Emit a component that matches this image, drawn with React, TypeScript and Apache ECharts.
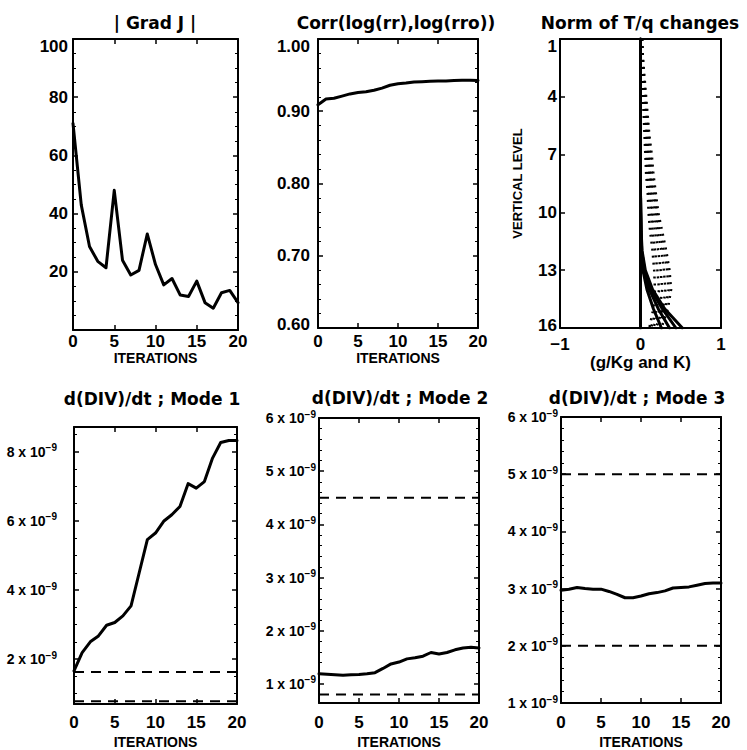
import React, { useEffect, useRef } from 'react';
import * as echarts from 'echarts';

// ---------- data ----------
const iterations = [0, 1, 2, 3, 4, 5, 6, 7, 8, 9, 10, 11, 12, 13, 14, 15, 16, 17, 18, 19, 20];

const gradJ = [71, 43, 28.7, 23.6, 21.4, 48, 24, 18.9, 20.5, 33, 22.5, 15.5, 17.7, 12, 11.5, 16.8, 9.4, 7.5, 12.8, 13.6, 9.4];

const corrLogRR = [0.909, 0.917, 0.918, 0.921, 0.924, 0.926, 0.927, 0.929, 0.932, 0.936, 0.938, 0.939, 0.9405, 0.941, 0.9415, 0.942, 0.942, 0.9425, 0.943, 0.943, 0.9425];

const levels = [1, 2, 3, 4, 5, 6, 7, 8, 9, 10, 11, 12, 13, 14, 15, 16];
// dotted profiles (q changes)
const qChange1 = [0.02, 0.03, 0.05, 0.07, 0.09, 0.11, 0.14, 0.16, 0.19, 0.22, 0.27, 0.32, 0.36, 0.38, 0.34, 0.26];
const qChange2 = [0.02, 0.03, 0.04, 0.06, 0.08, 0.10, 0.12, 0.14, 0.17, 0.20, 0.24, 0.29, 0.33, 0.35, 0.31, 0.22];
const qChange3 = [0.01, 0.02, 0.04, 0.05, 0.07, 0.08, 0.10, 0.12, 0.15, 0.18, 0.21, 0.26, 0.29, 0.31, 0.28, 0.19];
const qChange4 = [0.01, 0.02, 0.03, 0.04, 0.06, 0.07, 0.09, 0.11, 0.13, 0.15, 0.18, 0.22, 0.25, 0.27, 0.24, 0.16];
const qChange5 = [0.01, 0.02, 0.03, 0.04, 0.05, 0.06, 0.07, 0.09, 0.11, 0.13, 0.15, 0.18, 0.21, 0.23, 0.20, 0.13];
const qChange6 = [0.01, 0.01, 0.02, 0.03, 0.04, 0.05, 0.06, 0.07, 0.09, 0.10, 0.12, 0.15, 0.17, 0.18, 0.16, 0.11];
// solid profiles (T changes)
const tChange0 = [0, 0, 0, 0, 0, 0, 0, 0, 0, 0, 0, 0, 0, 0, 0, 0];
const tChange1 = [0, 0, 0, 0, 0, 0, 0, 0, 0, 0.002, 0.005, 0.01, 0.03, 0.08, 0.16, 0.26];
const tChange2 = [0, 0, 0, 0, 0, 0, 0, 0, 0, 0.002, 0.005, 0.01, 0.04, 0.11, 0.22, 0.36];
const tChange3 = [0, 0, 0, 0, 0, 0, 0, 0, 0, 0.003, 0.007, 0.015, 0.05, 0.13, 0.27, 0.44];
const tChange4 = [0, 0, 0, 0, 0, 0, 0, 0, 0, 0.003, 0.008, 0.02, 0.06, 0.15, 0.30, 0.52];

// d(DIV)/dt, in units of 1e-9
const mode1 = [1.66, 2.19, 2.5, 2.67, 2.98, 3.06, 3.25, 3.54, 4.5, 5.46, 5.65, 5.99, 6.18, 6.42, 7.08, 6.95, 7.14, 7.82, 8.27, 8.33, 8.33];
const mode1Bounds = [1.63, 0.78];
const mode2 = [1.19, 1.18, 1.17, 1.16, 1.17, 1.175, 1.19, 1.21, 1.29, 1.375, 1.41, 1.47, 1.49, 1.52, 1.59, 1.56, 1.59, 1.64, 1.675, 1.69, 1.675];
const mode2Bounds = [4.5, 0.8];
const mode3 = [2.97, 2.99, 3.02, 3.0, 2.99, 2.99, 2.95, 2.9, 2.84, 2.84, 2.87, 2.91, 2.93, 2.96, 3.01, 3.02, 3.03, 3.06, 3.09, 3.1, 3.1];
const mode3Bounds = [5, 2];

// ---------- tick labels ----------
const iterTicks = [0, 5, 10, 15, 20];
const gradTicks = [20, 40, 60, 80, 100];
const gradMinor = [5, 10, 15, 25, 30, 35, 45, 50, 55, 65, 70, 75, 85, 90, 95];
const corrTicks = [0.6, 0.7, 0.8, 0.9, 1.0];
const corrMinor = [0.62, 0.64, 0.66, 0.68, 0.72, 0.74, 0.76, 0.78, 0.82, 0.84, 0.86, 0.88, 0.92, 0.94, 0.96, 0.98];
const levelTicks = [1, 4, 7, 10, 13, 16];
const normTicks = [-1, 0, 1];
const mode1Ticks = [2, 4, 6, 8];
const mode1Minor = [1, 1.5, 2.5, 3, 3.5, 4.5, 5, 5.5, 6.5, 7, 7.5, 8.5];
const mode2Ticks = [1, 2, 3, 4, 5, 6];
const mode2Minor = [0.8, 1.2, 1.4, 1.6, 1.8, 2.2, 2.4, 2.6, 2.8, 3.2, 3.4, 3.6, 3.8, 4.2, 4.4, 4.6, 4.8, 5.2, 5.4, 5.6, 5.8];
const mode3Ticks = [1, 2, 3, 4, 5, 6];
const mode3Minor = [1.2, 1.4, 1.6, 1.8, 2.2, 2.4, 2.6, 2.8, 3.2, 3.4, 3.6, 3.8, 4.2, 4.4, 4.6, 4.8, 5.2, 5.4, 5.6, 5.8];

const titles = [
  '| Grad J |',
  'Corr(log(rr),log(rro))',
  'Norm of T/q changes',
  'd(DIV)/dt ; Mode 1',
  'd(DIV)/dt ; Mode 2',
  'd(DIV)/dt ; Mode 3',
];

// ---------- styles ----------
const BLACK = '#000';
const TICK_FONT = "'Liberation Sans', Arial, Helvetica, sans-serif";
const TITLE_FONT = "'DejaVu Sans', 'Liberation Sans', sans-serif";

const tickText = { fontFamily: TICK_FONT, fontWeight: 'bold' as const, fontSize: 17, color: BLACK };
// top-row labels: IDL nudges the top label down and the bottom one up a little
const richTop = {
  hi: { ...tickText, padding: [15, 0, 0, 0] },
  lo: { ...tickText, padding: [0, 0, 8, 0] },
  n: { ...tickText },
};
const richExp = {
  m: { fontFamily: TICK_FONT, fontWeight: 'bold' as const, fontSize: 14, color: BLACK },
  e: { fontFamily: TICK_FONT, fontWeight: 'bold' as const, fontSize: 10, color: BLACK, padding: [0, 0, 8, 0] },
};
const expFormatter = (v: number) => `{m|${v} x 10}{e|\u22129}`;
const edgeFormatter = (ticks: number[], fmt: (v: number) => string, nudgeLow: boolean) => (v: number) => {
  const t = fmt(v);
  if (v === ticks[ticks.length - 1]) return `{hi|${t}}`;
  if (nudgeLow && v === ticks[0]) return `{lo|${t}}`;
  return `{n|${t}}`;
};

type PanelCfg = {
  grid: { left: number; top: number; width: number; height: number };
  xMin: number; xMax: number; xTicks: number[];
  xFormatter?: (v: number) => string;
  xName: string; xNameGap: number; xNameSize: number; xLabelMargin: number;
  yMin: number; yMax: number; yTicks: number[]; yMinor: number[];
  yFormatter: (v: number) => string; yRich?: any; yLabelMargin: number; yInverse?: boolean;
  yName?: string; yNameGap?: number;
  title: string; titleX: number; titleY: number;
};

const panels: PanelCfg[] = [
  {
    grid: { left: 73, top: 39, width: 165, height: 291 },
    xMin: 0, xMax: 20, xTicks: iterTicks, xName: 'ITERATIONS', xNameGap: 19, xNameSize: 14, xLabelMargin: 3,
    yMin: 0, yMax: 100, yTicks: gradTicks, yMinor: gradMinor,
    yFormatter: edgeFormatter(gradTicks, (v) => String(v), false), yRich: richTop, yLabelMargin: 5,
    title: titles[0], titleX: 155, titleY: 23,
  },
  {
    grid: { left: 318, top: 39, width: 160, height: 289 },
    xMin: 0, xMax: 20, xTicks: iterTicks, xName: 'ITERATIONS', xNameGap: 21, xNameSize: 14, xLabelMargin: 5,
    yMin: 0.6, yMax: 1.0, yTicks: corrTicks, yMinor: corrMinor,
    yFormatter: edgeFormatter(corrTicks, (v) => v.toFixed(2), true), yRich: richTop, yLabelMargin: 8,
    title: titles[1], titleX: 396, titleY: 23,
  },
  {
    grid: { left: 560, top: 39, width: 161, height: 289 },
    xMin: -1, xMax: 1, xTicks: normTicks,
    xFormatter: (v) => (v < 0 ? '\u2212' + Math.abs(v) : String(v)),
    xName: '(g/Kg and K)', xNameGap: 26, xNameSize: 17, xLabelMargin: 8,
    yMin: 1, yMax: 16, yTicks: levelTicks, yMinor: [],
    yFormatter: (v) => (v === levelTicks[0] ? `{hi|${v}}` : v === levelTicks[levelTicks.length - 1] ? `{lo|${v}}` : `{n|${v}}`),
    yRich: { hi: { ...tickText, padding: [15, 0, 0, 0] }, lo: { ...tickText, padding: [0, 0, 5, 0] }, n: { ...tickText } },
    yLabelMargin: 3, yInverse: true,
    yName: 'VERTICAL LEVEL', yNameGap: 36,
    title: titles[2], titleX: 640, titleY: 23,
  },
  {
    grid: { left: 74, top: 427, width: 163, height: 278 },
    xMin: 0, xMax: 20, xTicks: iterTicks, xName: 'ITERATIONS', xNameGap: 31, xNameSize: 14, xLabelMargin: 10,
    yMin: 0.7, yMax: 8.72, yTicks: mode1Ticks, yMinor: mode1Minor, yFormatter: expFormatter, yRich: richExp, yLabelMargin: 17,
    title: titles[3], titleX: 152, titleY: 399,
  },
  {
    grid: { left: 319, top: 418, width: 160, height: 286 },
    xMin: 0, xMax: 20, xTicks: iterTicks, xName: 'ITERATIONS', xNameGap: 32, xNameSize: 14, xLabelMargin: 11,
    yMin: 0.64, yMax: 6.0, yTicks: mode2Ticks, yMinor: mode2Minor, yFormatter: expFormatter, yRich: richExp, yLabelMargin: 3,
    title: titles[4], titleX: 400, titleY: 398,
  },
  {
    grid: { left: 561, top: 417, width: 160, height: 287 },
    xMin: 0, xMax: 20, xTicks: iterTicks, xName: 'ITERATIONS', xNameGap: 32, xNameSize: 14, xLabelMargin: 11,
    yMin: 1, yMax: 6, yTicks: mode3Ticks, yMinor: mode3Minor, yFormatter: expFormatter, yRich: richExp, yLabelMargin: 3,
    title: titles[5], titleX: 637, titleY: 398,
  },
];

function buildOption() {
  const grid: any[] = [];
  const xAxis: any[] = [];
  const yAxis: any[] = [];
  const series: any[] = [];
  const graphic: any[] = [];

  const axisLine = { show: true, onZero: false, lineStyle: { color: BLACK, width: 2 } };

  panels.forEach((p, i) => {
    grid.push({ ...p.grid, containLabel: false });
    const xInterval = p.xTicks[1] - p.xTicks[0];
    // bottom x
    xAxis.push({
      gridIndex: i, type: 'value', position: 'bottom', min: p.xMin, max: p.xMax, interval: xInterval,
      axisLine, splitLine: { show: false },
      axisTick: { show: true, inside: true, length: 5, lineStyle: { color: BLACK, width: 1.5 } },
      axisLabel: { show: true, margin: p.xLabelMargin, ...tickText, formatter: p.xFormatter || ((v: number) => String(v)) },
      name: p.xName, nameLocation: 'middle', nameGap: p.xNameGap,
      nameTextStyle: { fontFamily: TICK_FONT, fontWeight: 'bold', fontSize: p.xNameSize, color: BLACK },
    });
    // top x
    xAxis.push({
      gridIndex: i, type: 'value', position: 'top', min: p.xMin, max: p.xMax, interval: xInterval,
      axisLine, splitLine: { show: false },
      axisTick: { show: true, inside: true, length: 5, lineStyle: { color: BLACK, width: 1.5 } },
      axisLabel: { show: false },
    });
    const yBase = {
      gridIndex: i, type: 'value', min: p.yMin, max: p.yMax, inverse: !!p.yInverse,
      axisLine, splitLine: { show: false },
    };
    // left major
    yAxis.push({
      ...yBase, position: 'left',
      axisTick: { show: true, inside: true, length: 5, customValues: p.yTicks, lineStyle: { color: BLACK, width: 1.5 } },
      axisLabel: {
        show: true, margin: p.yLabelMargin, customValues: p.yTicks, formatter: p.yFormatter,
        ...tickText,
        ...(p.yRich ? { rich: p.yRich } : {}),
      },
      ...(p.yName
        ? {
            name: p.yName, nameLocation: 'middle', nameGap: p.yNameGap, nameRotate: 90,
            nameTextStyle: { fontFamily: TICK_FONT, fontWeight: 'bold', fontSize: 13, color: BLACK },
          }
        : {}),
    });
    // right major
    yAxis.push({
      ...yBase, position: 'right',
      axisTick: { show: true, inside: true, length: 5, customValues: p.yTicks, lineStyle: { color: BLACK, width: 1.5 } },
      axisLabel: { show: false },
    });
    // left minor
    yAxis.push({
      ...yBase, position: 'left', axisLine: { show: false, onZero: false },
      axisTick: { show: p.yMinor.length > 0, inside: true, length: 3, customValues: p.yMinor, lineStyle: { color: BLACK, width: 1 } },
      axisLabel: { show: false },
    });
    // right minor
    yAxis.push({
      ...yBase, position: 'right', axisLine: { show: false, onZero: false },
      axisTick: { show: p.yMinor.length > 0, inside: true, length: 3, customValues: p.yMinor, lineStyle: { color: BLACK, width: 1 } },
      axisLabel: { show: false },
    });

    graphic.push({
      type: 'text', x: p.titleX, y: p.titleY, silent: true,
      style: {
        text: p.title, fill: BLACK, fontFamily: TITLE_FONT, fontWeight: 'bold', fontSize: 17,
        textAlign: 'center', textVerticalAlign: 'middle', align: 'center', verticalAlign: 'middle',
      },
    });
  });

  const solid = (xi: number, yi: number, data: number[][], width = 3) => ({
    type: 'line', xAxisIndex: xi, yAxisIndex: yi, data, showSymbol: false, symbol: 'none', silent: true,
    lineStyle: { color: BLACK, width, type: 'solid', cap: 'round', join: 'round' }, z: 3,
  });
  const dashed = (xi: number, yi: number, v: number) => ({
    type: 'line', xAxisIndex: xi, yAxisIndex: yi,
    data: [[iterations[0], v], [iterations[iterations.length - 1], v]],
    showSymbol: false, symbol: 'none', silent: true,
    lineStyle: { color: BLACK, width: 2, type: [10, 7] }, z: 2,
  });

  // panel 1
  series.push(solid(0, 0, iterations.map((it, k) => [it, gradJ[k]])));
  // panel 2
  series.push(solid(2, 4, iterations.map((it, k) => [it, corrLogRR[k]])));
  // panel 3
  [qChange1, qChange2, qChange3, qChange4, qChange5, qChange6].forEach((arr) => {
    series.push({
      type: 'line', xAxisIndex: 4, yAxisIndex: 8, data: levels.map((l, k) => [arr[k], l]),
      showSymbol: false, symbol: 'none', silent: true,
      lineStyle: { color: BLACK, width: 2.5, type: [2, 5], cap: 'butt' }, z: 2,
    });
  });
  [tChange0, tChange1, tChange2, tChange3, tChange4].forEach((arr) => {
    series.push(solid(4, 8, levels.map((l, k) => [arr[k], l]), 3));
  });
  // panel 4-6
  series.push(solid(6, 12, iterations.map((it, k) => [it, mode1[k]])));
  mode1Bounds.forEach((v) => series.push(dashed(6, 12, v)));
  series.push(solid(8, 16, iterations.map((it, k) => [it, mode2[k]])));
  mode2Bounds.forEach((v) => series.push(dashed(8, 16, v)));
  series.push(solid(10, 20, iterations.map((it, k) => [it, mode3[k]])));
  mode3Bounds.forEach((v) => series.push(dashed(10, 20, v)));

  return {
    animation: false,
    backgroundColor: '#fff',
    textStyle: { fontFamily: TICK_FONT },
    grid, xAxis, yAxis, series, graphic,
  };
}

export default function App() {
  const ref = useRef<HTMLDivElement>(null);
  useEffect(() => {
    if (!ref.current) return;
    const chart = echarts.init(ref.current, null, { renderer: 'svg' });
    chart.setOption(buildOption() as any);
    return () => chart.dispose();
  }, []);
  return (
    <div
      ref={ref}
      style={{ position: 'absolute', left: 0, top: 0, width: 747, height: 750, background: '#fff' }}
    />
  );
}
